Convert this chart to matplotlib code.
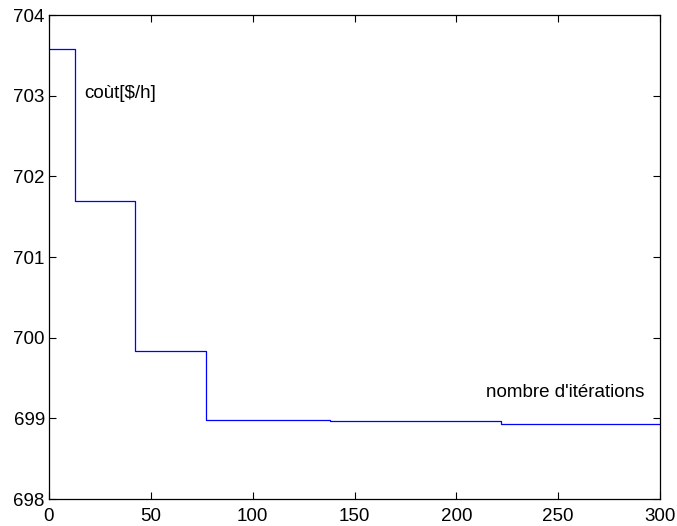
import numpy as np
import matplotlib.pyplot as plt

plt.rcParams['font.family'] = ['Liberation Sans', 'DejaVu Sans']

# iteration at which each new cost level starts
iters = [0, 13, 42, 77, 138, 222, 300]
cost = [703.58, 701.70, 699.84, 698.98, 698.97, 698.93, 698.93]

fig = plt.figure(figsize=(6.77, 5.26), dpi=100)
ax = fig.add_axes([49/677, 1 - 499/526, 611/677, 484/526])

ax.step(iters, cost, where='post', color='#0000ff', lw=0.9)

ax.set_xlim(0, 300)
ax.set_ylim(698, 704)
ax.set_xticks(np.arange(0, 301, 50))
ax.set_yticks(np.arange(698, 705, 1))
ax.tick_params(direction='in', top=True, right=True, labelsize=13.5, length=5)
ax.tick_params(axis='x', pad=6.5)
ax.tick_params(axis='y', pad=3)
for s in ax.spines.values():
    s.set_linewidth(0.9)

ax.text(17.2, 703.03, 'coùt[$/h]', fontsize=13.5, va='center')
ax.text(214.5, 699.32, "nombre d'itérations", fontsize=13.5, va='center')

plt.savefig('out.png', dpi=100)
